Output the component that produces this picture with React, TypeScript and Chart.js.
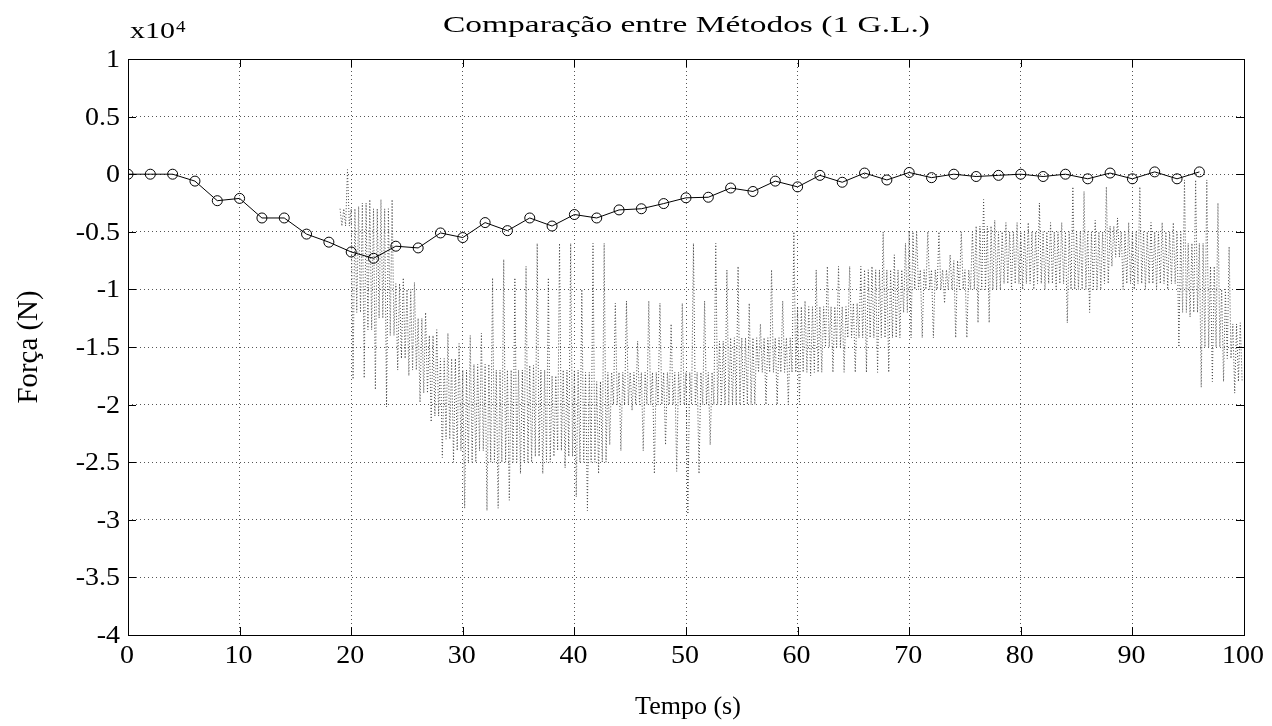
import React, { useEffect, useRef } from "react";
import { Chart, registerables } from "chart.js";

Chart.register(...registerables);

// ---- data (force values in units of 10^4 N) ----
const mvTimes = [0, 2, 4, 6, 8, 10, 12, 14, 16, 18, 20, 22, 24, 26, 28, 30, 32, 34, 36, 38, 40, 42, 44, 46, 48, 50, 52, 54, 56, 58, 60, 62, 64, 66, 68, 70, 72, 74, 76, 78, 80, 82, 84, 86, 88, 90, 92, 94, 96];
const mvValues = [0, 0, 0, -0.06, -0.23, -0.21, -0.38, -0.38, -0.52, -0.59, -0.675, -0.73, -0.625, -0.64, -0.51, -0.55, -0.42, -0.49, -0.38, -0.45, -0.35, -0.38, -0.31, -0.30, -0.255, -0.205, -0.20, -0.12, -0.15, -0.06, -0.11, -0.01, -0.07, 0.01, -0.05, 0.015, -0.03, 0, -0.02, -0.01, 0, -0.02, 0, -0.04, 0.01, -0.04, 0.02, -0.04, 0.02];

const sigSeconds = [19, 20, 21, 22, 23, 24, 25, 26, 27, 28, 29, 30, 31, 32, 33, 34, 35, 36, 37, 38, 39, 40, 41, 42, 43, 44, 45, 46, 47, 48, 49, 50, 51, 52, 53, 54, 55, 56, 57, 58, 59, 60, 61, 62, 63, 64, 65, 66, 67, 68, 69, 70, 71, 72, 73, 74, 75, 76, 77, 78, 79, 80, 81, 82, 83, 84, 85, 86, 87, 88, 89, 90, 91, 92, 93, 94, 95, 96, 97, 98, 99];
const sigBandTop = [-0.30, -0.30, -0.25, -0.30, -0.30, -0.95, -1.00, -1.25, -1.40, -1.60, -1.60, -1.70, -1.65, -1.65, -1.70, -1.70, -1.70, -1.66, -1.70, -1.75, -1.70, -1.70, -1.72, -1.80, -1.72, -1.72, -1.72, -1.72, -1.72, -1.72, -1.72, -1.72, -1.72, -1.72, -1.45, -1.42, -1.42, -1.42, -1.42, -1.42, -1.42, -1.15, -1.15, -1.15, -1.15, -1.15, -1.12, -0.83, -0.83, -0.83, -0.83, -0.50, -0.83, -0.83, -0.83, -0.75, -0.83, -0.45, -0.45, -0.50, -0.50, -0.50, -0.50, -0.50, -0.50, -0.50, -0.50, -0.50, -0.50, -0.45, -0.50, -0.50, -0.50, -0.50, -0.50, -0.50, -0.60, -0.60, -0.80, -1.00, -1.30];
const sigBandBot = [-0.45, -1.20, -1.35, -1.25, -1.40, -1.60, -1.70, -1.90, -2.10, -2.30, -2.40, -2.50, -2.40, -2.50, -2.50, -2.50, -2.50, -2.45, -2.50, -2.40, -2.45, -2.50, -2.50, -2.50, -2.00, -2.00, -2.00, -2.00, -2.00, -2.00, -2.00, -2.00, -2.00, -2.00, -2.00, -2.00, -2.00, -1.72, -1.72, -1.72, -1.72, -1.72, -1.72, -1.50, -1.50, -1.42, -1.42, -1.42, -1.42, -1.42, -1.20, -1.00, -1.00, -1.00, -1.00, -1.00, -1.00, -1.00, -1.00, -0.95, -0.95, -0.95, -0.95, -0.95, -0.95, -1.00, -1.00, -1.00, -0.95, -0.72, -0.95, -0.95, -0.95, -0.95, -0.95, -1.20, -1.20, -1.50, -1.50, -1.60, -1.80];
const sigSpikeTop = [0.04, -0.28, -0.22, -0.22, -0.22, -0.90, -0.94, -1.20, -1.35, -1.38, -1.47, -1.40, -1.38, -0.90, -0.74, -0.90, -0.80, -0.60, -0.90, -0.60, -0.60, -1.00, -0.60, -0.60, -1.12, -1.10, -1.45, -1.10, -1.12, -1.30, -1.12, -0.60, -1.10, -0.60, -0.83, -0.80, -1.12, -1.30, -0.83, -1.10, -0.50, -1.10, -0.83, -0.80, -0.80, -0.80, -0.80, -0.80, -0.50, -0.70, -0.60, -0.50, -0.50, -0.50, -0.70, -0.50, -0.50, -0.22, -0.40, -0.42, -0.42, -0.42, -0.25, -0.42, -0.42, -0.11, -0.15, -0.40, -0.11, -0.38, -0.42, -0.11, -0.42, -0.42, -0.42, -0.05, -0.05, -0.05, -0.25, -0.63, -1.29];
const sigSpikeBot = [-0.45, -1.78, -1.77, -1.87, -2.02, -1.70, -1.75, -1.98, -2.15, -2.46, -2.50, -2.90, -2.50, -2.92, -2.90, -2.83, -2.60, -2.50, -2.60, -2.45, -2.55, -2.80, -2.92, -2.60, -2.35, -2.40, -2.05, -2.40, -2.60, -2.35, -2.58, -2.95, -2.60, -2.35, -2.00, -2.00, -2.00, -2.00, -2.00, -2.00, -2.00, -2.00, -1.75, -1.72, -1.72, -1.72, -1.72, -1.72, -1.72, -1.72, -1.42, -1.42, -1.42, -1.42, -1.12, -1.42, -1.42, -1.29, -1.29, -1.00, -1.00, -1.00, -1.00, -1.00, -1.00, -1.29, -1.00, -1.20, -1.00, -0.80, -1.00, -1.00, -1.00, -1.00, -1.00, -1.50, -1.24, -1.85, -1.80, -1.80, -1.90];

const xTickValues = [0, 10, 20, 30, 40, 50, 60, 70, 80, 90, 100];
const yTickValues = [1, 0.5, 0, -0.5, -1, -1.5, -2, -2.5, -3, -3.5, -4];

const TITLE = "Comparação entre Métodos (1 G.L.)";
const X_LABEL = "Tempo (s)";
const Y_LABEL = "Força (N)";

const FONT = "Liberation Serif, Times New Roman, serif";
const SX = 1.12;

function buildSignal() {
  const pts: { x: number; y: number }[] = [];
  sigSeconds.forEach((t, i) => {
    const seq = [sigBandTop[i], sigSpikeBot[i], sigBandTop[i], sigBandBot[i], sigSpikeTop[i], sigBandBot[i]];
    seq.forEach((v, k) => pts.push({ x: t + k / seq.length, y: v }));
  });
  return pts;
}

function txt(ctx: CanvasRenderingContext2D, s: string, x: number, y: number, size: number, align: CanvasTextAlign, sx = SX, targetW = 0) {
  ctx.save();
  ctx.font = `${size}px ${FONT}`;
  let k = sx;
  if (targetW > 0) k = targetW / ctx.measureText(s).width;
  ctx.translate(x, y);
  ctx.scale(k, 1);
  ctx.textAlign = align;
  ctx.textBaseline = "alphabetic";
  ctx.fillStyle = "#000";
  ctx.fillText(s, 0, 0);
  ctx.restore();
}

const framePlugin = {
  id: "matlabFrame",
  afterDraw(chart: any) {
    const { ctx, chartArea: a, scales } = chart;
    const xs = scales.x;
    const ys = scales.y;
    ctx.save();
    ctx.strokeStyle = "#000";
    ctx.lineWidth = 1;
    ctx.setLineDash([]);
    ctx.strokeRect(Math.round(a.left) + 0.5, Math.round(a.top) + 0.5, Math.round(a.right - a.left), Math.round(a.bottom - a.top));
    const L = 8;
    ctx.beginPath();
    xTickValues.forEach((v) => {
      const px = Math.round(xs.getPixelForValue(v)) + 0.5;
      ctx.moveTo(px, a.bottom);
      ctx.lineTo(px, a.bottom - L);
      ctx.moveTo(px, a.top);
      ctx.lineTo(px, a.top + L);
    });
    yTickValues.forEach((v) => {
      const py = Math.round(ys.getPixelForValue(v)) + 0.5;
      ctx.moveTo(a.left, py);
      ctx.lineTo(a.left + L, py);
      ctx.moveTo(a.right, py);
      ctx.lineTo(a.right - L, py);
    });
    ctx.stroke();

    // tick labels
    yTickValues.forEach((v) => {
      const py = ys.getPixelForValue(v);
      txt(ctx, String(v), a.left - 8, py + 8, 25, "right");
    });
    xTickValues.forEach((v) => {
      const px = xs.getPixelForValue(v);
      txt(ctx, String(v), px - 1, a.bottom + 28, 25, "center");
    });

    // title and axis labels
    txt(ctx, TITLE, 686.5, 32, 23, "center", SX, 487);
    txt(ctx, "x10", a.left + 2, 38, 24, "left", SX, 45);
    txt(ctx, "4", a.left + 48, 32, 17, "left");
    txt(ctx, X_LABEL, 688, 714, 26, "center", 1.0);
    ctx.save();
    ctx.translate(37, 347);
    ctx.rotate(-Math.PI / 2);
    ctx.font = `26px ${FONT}`;
    const w = ctx.measureText(Y_LABEL).width;
    ctx.scale(113 / w, 1.1);
    ctx.textAlign = "center";
    ctx.fillStyle = "#000";
    ctx.fillText(Y_LABEL, 0, 0);
    ctx.restore();
    ctx.restore();
  },
};

export default function App() {
  const ref = useRef<HTMLCanvasElement | null>(null);
  useEffect(() => {
    if (!ref.current) return;
    const chart = new Chart(ref.current, {
      type: "line",
      data: {
        datasets: [
          {
            label: "Método 1",
            data: mvTimes.map((t, i) => ({ x: t, y: mvValues[i] })),
            borderColor: "#000",
            borderWidth: 1,
            pointRadius: 5,
            pointBorderWidth: 1,
            pointBorderColor: "#000",
            pointBackgroundColor: "rgba(0,0,0,0)",
            tension: 0,
            order: 0,
          },
          {
            label: "Método 2",
            data: buildSignal(),
            borderColor: "#474747",
            borderWidth: 1,
            borderDash: [1, 2],
            pointRadius: 0,
            tension: 0,
            order: 1,
          },
        ],
      },
      options: {
        animation: false,
        responsive: false,
        devicePixelRatio: 1,
        layout: { padding: { left: 128, right: 28, top: 59, bottom: 91 } },
        plugins: { legend: { display: false }, tooltip: { enabled: false }, title: { display: false } },
        scales: {
          x: {
            type: "linear",
            min: 0,
            max: 100,
            afterFit: (s: any) => { s.height = 0; },
            afterBuildTicks: (s: any) => { s.ticks = xTickValues.map((v) => ({ value: v })); },
            ticks: { display: false },
            grid: { color: "#555", lineWidth: 1, drawTicks: false },
            border: { display: false, dash: [1, 3] },
          },
          y: {
            type: "linear",
            min: -4,
            max: 1,
            afterFit: (s: any) => { s.width = 0; },
            afterBuildTicks: (s: any) => { s.ticks = yTickValues.map((v) => ({ value: v })); },
            ticks: { display: false },
            grid: { color: "#555", lineWidth: 1, drawTicks: false },
            border: { display: false, dash: [1, 3] },
          },
        },
      },
      plugins: [framePlugin],
    });
    return () => chart.destroy();
  }, []);
  return (
    <div style={{ position: "fixed", left: 0, top: 0, width: 1272, height: 726, background: "#fff" }}>
      <canvas ref={ref} width={1272} height={726} style={{ display: "block" }} />
    </div>
  );
}
